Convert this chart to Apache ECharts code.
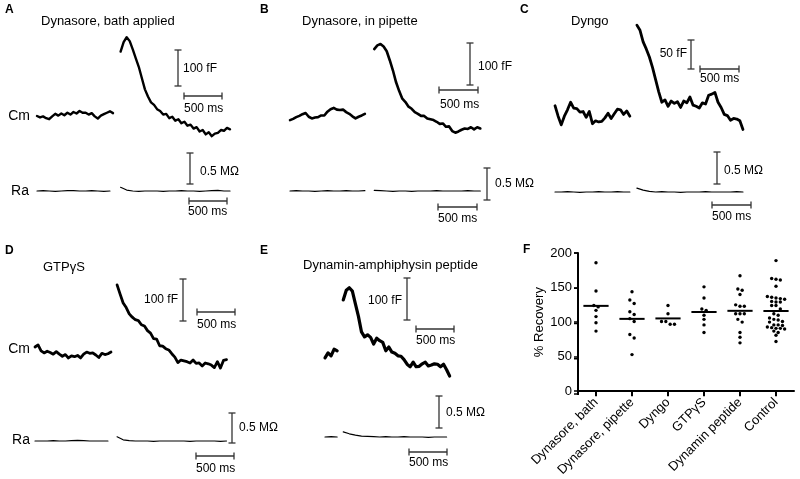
<!DOCTYPE html>
<html><head><meta charset="utf-8">
<script src="https://cdn.jsdelivr.net/npm/echarts@6/dist/echarts.min.js"></script>
<style>html,body{margin:0;padding:0;background:#fff}#c{width:800px;height:479px}</style>
</head><body><div id="c"></div>
<script>
// ---------------- DATA ----------------
// Cm traces (fF, relative to pre-stimulus baseline), sampled every 40 ms
const DT_CM = 40, DT_RA = 80;
const A_cm1 = [0, -4, -1, -6, -9, -1, 6, 1, 7, 2, 9, 4, 11, 7, 14, 9, 9, 4, 8, -1, -7, 1, 5, 9, 13, 8];
const A_cm2 = [179, 205, 219, 208, 185, 160, 136, 105, 74, 54, 38, 31, 19, 14, 4, 6, -6, -2, -13, -9, -20, -16, -27, -24, -35, -31, -43, -39, -51, -45, -56, -49, -47, -39, -41, -33, -37];
const B_cm1 = [-5, -2, 2, 5, 9, 12, 3, -1, 1, 2, 6, 6, 15, 21, 24, 20, 19, 20, 14, 10, 4, -1, 3, 6, 10];
const B_cm2 = [164, 173, 176, 170, 159, 137, 113, 85, 64, 46, 38, 27, 22, 14, 10, 5, 5, -1, -3, -5, -9, -14, -13, -21, -20, -31, -35, -32, -28, -25, -26, -22, -27, -22, -25];
const C_cm1 = [16, -2, -17, -2, 9, 22, 12, 11, 5, 6, -4, 6, -15, -10, -12, -11, -5, 3, -6, 2, 10, 9, 1, 7, -2];
const C_cm2 = [155, 146, 126, 114, 100, 82, 61, 40, 22, 26, 15, 24, 20, 23, 13, 24, 21, 31, 17, 15, 12, 21, 19, 34, 36, 39, 22, 13, 1, -1, -9, -6, -7, -10, -25];
const D_cm1 = [19, 24, 10, 5, 9, 6, 2, 8, 2, -3, 1, -7, -2, -4, -1, -7, 2, 7, 4, 5, 0, -6, 4, 1, 3, 7];
const D_cm2 = [167, 145, 124, 113, 98, 90, 84, 82, 72, 69, 58, 52, 39, 38, 22, 21, 15, 12, 3, -5, -18, -12, -14, -16, -19, -12, -20, -19, -26, -19, -21, -24, -30, -16, -31, -13, -11];
const E_cm1 = [-7, 5, -2, 14, 10];
const E_cm2 = [131, 154, 160, 152, 122, 92, 55, 43, 48, 42, 26, 40, 34, 30, 10, 19, 7, 4, -2, -3, -11, -22, -28, -17, -28, -27, -21, -17, -26, -24, -21, -22, -28, -22, -35, -50];
// Ra traces (MΩ, relative), sampled every 80 ms
const A_ra1 = [0, 0.005, 0, -0.005, 0, 0.005, 0.005, 0, 0, 0.005, 0, -0.005, 0];
const A_ra2 = [0.06, 0.015, 0, -0.005, 0, 0, 0, -0.005, 0, 0, 0.005, 0, 0, -0.005, 0, 0.005, 0.01, 0, 0];
const B_ra1 = [0, 0.005, 0, 0, -0.005, 0, 0.005, 0, 0, 0.005, 0, 0, 0.005];
const B_ra2 = [0.01, 0.005, 0, -0.005, 0, 0, -0.005, 0, 0, 0, 0.005, 0, 0, 0, 0, 0.005, 0, 0];
const C_ra1 = [0, 0, 0.005, 0, -0.005, 0, 0, 0.005, 0, 0, 0.005, 0, 0];
const C_ra2 = [0.06, 0.03, 0.01, 0, 0.005, 0, 0, -0.005, 0, 0, 0, 0.005, 0, 0, 0, 0, 0.005, 0];
const D_ra1 = [0, 0, 0, 0.005, 0, 0, 0.005, 0.01, 0.005, 0, 0, 0, 0];
const D_ra2 = [0.07, 0.02, 0.005, 0, 0, 0, -0.005, 0, 0, 0, 0, 0, -0.005, 0, 0, 0, 0, -0.005, 0];
const E_ra1 = [0, 0.005, 0];
const E_ra2 = [0.08, 0.05, 0.03, 0.015, 0.01, 0.005, 0, 0.005, 0, 0, 0.005, 0, 0, 0, -0.005, 0, 0, 0];
// start time (ms) of the second (post-stimulus) segment
const SEG2_START = {A: 1100, B: 1080, C: 1050, D: 1080, E: 240};
// scale-bar magnitudes
const BAR_T = 500;              // ms
const BAR_CM = {A: 100, B: 100, C: 50, D: 100, E: 100}; // fF
const BAR_RA = 0.5;             // MΩ
// Panel F: % recovery
const F_CATS = ['Dynasore, bath', 'Dynasore, pipette', 'Dyngo', 'GTPγS', 'Dynamin peptide', 'Control'];
const F_bath = [186, 145, 124, 122, 117, 108, 99, 87];
const F_pipette = [144, 132, 127, 115, 111, 105, 101, 82, 77, 53];
const F_dyngo = [124, 112, 101, 97, 97, 101];
const F_gtp = [151, 135, 119, 117, 110, 104, 96, 85];
const F_dynamin = [167, 148, 146, 140, 125, 123, 123, 112, 112, 112, 104, 100, 85, 78, 70];
const F_control = [189, 163, 162, 161, 152, 137, 136, 134, 133, 135, 130, 129, 129, 124, 124, 119, 112, 110, 106, 104, 103, 101, 100, 96, 95, 96, 91, 90, 91, 92, 93, 85, 87, 81, 72];
const F_TICKS = [0, 50, 100, 150, 200];

// ---------------- LAYOUT ----------------
const FONT = '"Liberation Sans", Arial, Helvetica, sans-serif';
const panels = [
  {k:'A', box:[30,22,250,232], cm:{x0:37,y0:116,sx:0.076,sy:0.36}, ra:{x0:37,y0:191,sx:0.076,sy:62},
   cm1:A_cm1, cm2:A_cm2, ra1:A_ra1, ra2:A_ra2, w:2.4,
   bars:{cmV:[178,86], cmH:[184,96], raV:[190,184], raH:[189,201]}},
  {k:'B', box:[284,22,500,232], cm:{x0:290,y0:118,sx:0.078,sy:0.42}, ra:{x0:290,y0:191,sx:0.078,sy:64},
   cm1:B_cm1, cm2:B_cm2, ra1:B_ra1, ra2:B_ra2, w:2.6,
   bars:{cmV:[470,85], cmH:[439,90], raV:[487,200], raH:[438,207]}},
  {k:'C', box:[548,15,760,232], cm:{x0:555,y0:115,sx:0.078,sy:0.58}, ra:{x0:555,y0:192,sx:0.078,sy:64},
   cm1:C_cm1, cm2:C_cm2, ra1:C_ra1, ra2:C_ra2, w:2.8,
   bars:{cmV:[691,69], cmH:[700,69], raV:[717,184], raH:[712,205]}},
  {k:'D', box:[30,272,250,475], cm:{x0:35,y0:355,sx:0.076,sy:0.42}, ra:{x0:35,y0:441,sx:0.076,sy:60},
   cm1:D_cm1, cm2:D_cm2, ra1:D_ra1, ra2:D_ra2, w:2.8,
   bars:{cmV:[183,321], cmH:[197,312], raV:[232,443], raH:[196,456]}},
  {k:'E', box:[315,272,470,475], cm:{x0:325,y0:355,sx:0.076,sy:0.42}, ra:{x0:325,y0:437,sx:0.076,sy:64},
   cm1:E_cm1, cm2:E_cm2, ra1:E_ra1, ra2:E_ra2, w:3.2,
   bars:{cmV:[407,320], cmH:[416,329], raV:[439,428], raH:[409,452]}}
];
const F_BOX = {left: 578, top: 253, width: 216, height: 141};

const texts = [
  // [text, x, y, align, size, bold]
  ['A',5,10,'left',12,1],['B',260,10,'left',12,1],['C',520,10,'left',12,1],
  ['D',5,251,'left',12,1],['E',260,251,'left',12,1],['F',523,250,'left',12,1],
  ['Dynasore, bath applied',41,21,'left',13,0],['Dynasore, in pipette',302,21,'left',13,0],
  ['Dyngo',571,21,'left',13,0],['GTPγS',43,267,'left',13,0],['Dynamin-amphiphysin peptide',303,265,'left',13,0],
  ['Cm',30,116,'right',14,0],['Ra',29,191,'right',14,0],['Cm',30,349,'right',14,0],['Ra',30,440,'right',14,0],
  ['100 fF',183,69,'left',12,0],['500 ms',184,109,'left',12,0],['0.5 MΩ',200,172,'left',12,0],['500 ms',188,212,'left',12,0],
  ['100 fF',478,67,'left',12,0],['500 ms',440,105,'left',12,0],['0.5 MΩ',495,184,'left',12,0],['500 ms',438,219,'left',12,0],
  ['50 fF',687,54,'right',12,0],['500 ms',700,79,'left',12,0],['0.5 MΩ',724,171,'left',12,0],['500 ms',712,217,'left',12,0],
  ['100 fF',178,300,'right',12,0],['500 ms',197,325,'left',12,0],['0.5 MΩ',239,428,'left',12,0],['500 ms',196,469,'left',12,0],
  ['100 fF',402,301,'right',12,0],['500 ms',416,341,'left',12,0],['0.5 MΩ',446,413,'left',12,0],['500 ms',409,463,'left',12,0]
];

// ---------------- BUILD ----------------
const grid = [], xAxis = [], yAxis = [], series = [];

function renderBar(params, api) {
  const x = api.value(0), y = api.value(1), dx = api.value(2), dy = api.value(3);
  const a = api.coord([x, y]), b = api.coord([x + dx, y + dy]);
  const c = 3.5, st = {stroke: '#333', lineWidth: 1.3};
  const ch = [{type:'line', shape:{x1:a[0],y1:a[1],x2:b[0],y2:b[1]}, style:st}];
  if (dx !== 0) {
    ch.push({type:'line', shape:{x1:a[0],y1:a[1]-c,x2:a[0],y2:a[1]+c}, style:st});
    ch.push({type:'line', shape:{x1:b[0],y1:b[1]-c,x2:b[0],y2:b[1]+c}, style:st});
  } else {
    ch.push({type:'line', shape:{x1:a[0]-c,y1:a[1],x2:a[0]+c,y2:a[1]}, style:st});
    ch.push({type:'line', shape:{x1:b[0]-c,y1:b[1],x2:b[0]+c,y2:b[1]}, style:st});
  }
  return {type:'group', children: ch};
}

panels.forEach((p) => {
  const [L, T, R, B] = p.box;
  [['cm', p.cm], ['ra', p.ra]].forEach(([kind, m]) => {
    const gi = grid.length;
    grid.push({left: L, top: T, width: R - L, height: B - T, containLabel: false});
    xAxis.push({gridIndex: gi, type: 'value', show: false, min: (L - m.x0) / m.sx, max: (R - m.x0) / m.sx});
    yAxis.push({gridIndex: gi, type: 'value', show: false, min: (m.y0 - B) / m.sy, max: (m.y0 - T) / m.sy});
    const dt = kind === 'cm' ? DT_CM : DT_RA;
    const segs = kind === 'cm' ? [[0, p.cm1], [SEG2_START[p.k], p.cm2]] : [[0, p.ra1], [SEG2_START[p.k], p.ra2]];
    segs.forEach(([t0, arr]) => {
      series.push({
        type: 'line', xAxisIndex: gi, yAxisIndex: gi, showSymbol: false, symbol: 'none',
        data: arr.map((v, i) => [t0 + i * dt, v]),
        lineStyle: {color: '#000', width: kind === 'cm' ? p.w : 1.2, join: 'round', cap: 'round'},
        animation: false, silent: true
      });
    });
    // scale bars
    const toData = (px) => [(px[0] - m.x0) / m.sx, (m.y0 - px[1]) / m.sy];
    const vb = kind === 'cm' ? p.bars.cmV : p.bars.raV;
    const hb = kind === 'cm' ? p.bars.cmH : p.bars.raH;
    const vMag = kind === 'cm' ? BAR_CM[p.k] : BAR_RA;
    const v0 = toData(vb), h0 = toData(hb);
    series.push({
      type: 'custom', xAxisIndex: gi, yAxisIndex: gi, renderItem: renderBar, clip: false,
      encode: {x: 0, y: 1}, silent: true, animation: false,
      data: [[v0[0], v0[1], 0, vMag], [h0[0], h0[1], BAR_T, 0]]
    });
  });
});

// Panel F
const FG = grid.length;
grid.push(Object.assign({containLabel: false}, F_BOX));
const FX = xAxis.length;
xAxis.push({
  gridIndex: FG, type: 'category', data: F_CATS, boundaryGap: true, position: 'bottom',
  axisLine: {show: true, lineStyle: {color: '#000', width: 2}},
  axisTick: {show: true, alignWithLabel: true, length: 5, lineStyle: {color: '#000', width: 2}},
  axisLabel: {show: true, rotate: 45, interval: 0, fontSize: 13, color: '#000', fontFamily: FONT, margin: 9},
  splitLine: {show: false}
});
const FXV = xAxis.length;
xAxis.push({gridIndex: FG, type: 'value', show: false, min: 0, max: F_CATS.length, position: 'top'});
const FY = yAxis.length;
const Y_MIN = F_TICKS[0], Y_MAX = F_TICKS[F_TICKS.length - 1];
yAxis.push({
  gridIndex: FG, type: 'value', position: 'left',
  min: Y_MIN, max: Y_MAX, interval: F_TICKS[1] - F_TICKS[0],
  axisLine: {show: true, lineStyle: {color: '#000', width: 2}},
  axisTick: {show: true, length: 4, lineStyle: {color: '#000', width: 1.5}},
  axisLabel: {show: true, fontSize: 13, color: '#000', fontFamily: FONT, margin: 6},
  splitLine: {show: false},
  name: '% Recovery', nameLocation: 'middle', nameGap: 29, nameRotate: 90,
  nameTextStyle: {fontSize: 13, color: '#000', fontFamily: FONT}
});

const STEP = 0.12, TH = 6;
function arrange(vals, idx) {
  const s = [...vals].sort((a, b) => b - a);
  const rows = [];
  s.forEach(v => { const r = rows[rows.length - 1]; if (r && r[0] - v < TH) r.push(v); else rows.push([v]); });
  const out = [];
  rows.forEach(r => r.forEach((v, k) => out.push([idx + 0.5, v, k - (r.length - 1) / 2])));
  return out;
}
const F_groups = [F_bath, F_pipette, F_dyngo, F_gtp, F_dynamin, F_control];
const dotData = [], meanData = [];
F_groups.forEach((g, i) => {
  arrange(g, i).forEach(d => dotData.push(d));
  meanData.push([i + 0.5, g.reduce((a, b) => a + b, 0) / g.length]);
});
series.push({
  type: 'custom', xAxisIndex: FXV, yAxisIndex: FY, clip: false, silent: true, animation: false,
  encode: {x: 0, y: 1}, data: dotData,
  renderItem: (params, api) => {
    const c = api.coord([api.value(0), api.value(1)]);
    const bw = api.size([1, 0])[0];
    return {type: 'circle', shape: {cx: c[0] + api.value(2) * STEP * bw, cy: c[1], r: 1.7}, style: {fill: '#000'}};
  }
});
series.push({
  type: 'custom', xAxisIndex: FXV, yAxisIndex: FY, clip: false, silent: true, animation: false,
  encode: {x: 0, y: 1}, data: meanData,
  renderItem: (params, api) => {
    const c = api.coord([api.value(0), api.value(1)]);
    const hw = api.size([1, 0])[0] * 0.35;
    return {type: 'line', shape: {x1: c[0] - hw, y1: c[1], x2: c[0] + hw, y2: c[1]}, style: {stroke: '#000', lineWidth: 2}};
  }
});

const graphic = texts.map(([t, x, y, al, sz, b]) => ({
  type: 'text', x: x, y: y, silent: true,
  style: {text: t, fill: '#000', font: (b ? 'bold ' : '') + sz + 'px ' + FONT,
          fontSize: sz, fontWeight: b ? 'bold' : 'normal', fontFamily: FONT,
          align: al, verticalAlign: 'middle', textAlign: al, textVerticalAlign: 'middle'}
}));
// left axis line of panel F as a fallback overlay, aligned with the grid box
const yPix = v => F_BOX.top + (Y_MAX - v) / (Y_MAX - Y_MIN) * F_BOX.height;
graphic.push({type: 'line', z: 100, silent: true,
  shape: {x1: F_BOX.left, y1: yPix(Y_MIN) + 1, x2: F_BOX.left, y2: yPix(Y_MAX)},
  style: {stroke: '#000', lineWidth: 2}});
F_TICKS.forEach(v => graphic.push({type: 'line', z: 100, silent: true,
  shape: {x1: F_BOX.left - 4, y1: yPix(v), x2: F_BOX.left, y2: yPix(v)},
  style: {stroke: '#000', lineWidth: 1.5}}));

const chart = echarts.init(document.getElementById('c'), null, {renderer: 'canvas'});
chart.setOption({
  backgroundColor: '#fff', animation: false,
  grid, xAxis, yAxis, series, graphic
});
</script></body></html>
